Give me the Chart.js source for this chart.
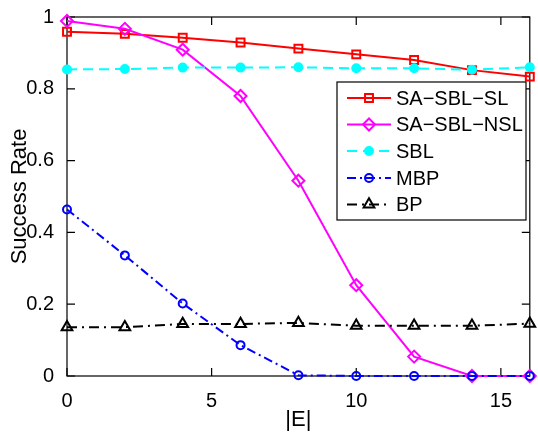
<!DOCTYPE html>
<html>
<head>
<meta charset="utf-8">
<script src="https://cdn.jsdelivr.net/npm/chart.js@4.4.0/dist/chart.umd.min.js"></script>
<style>
  html, body { margin: 0; padding: 0; background: #fff; }
  #wrap { width: 538px; height: 436px; }
</style>
</head>
<body>
<div id="wrap"><canvas id="chart" width="538" height="436"></canvas></div>
<script>
const xValues = [0, 2, 4, 6, 8, 10, 12, 14, 16];
const saSblSl  = [0.959, 0.953, 0.942, 0.929, 0.912, 0.896, 0.880, 0.852, 0.834];
const saSblNsl = [0.989, 0.967, 0.909, 0.780, 0.544, 0.253, 0.054, 0.0, 0.0];
const sbl      = [0.854, 0.855, 0.859, 0.859, 0.860, 0.857, 0.857, 0.853, 0.860];
const mbp      = [0.464, 0.336, 0.202, 0.086, 0.002, 0.0, 0.0, 0.0, 0.0];
const bp       = [0.136, 0.136, 0.145, 0.145, 0.148, 0.140, 0.140, 0.140, 0.146];
const seriesNames = ['SA\u2212SBL\u2212SL', 'SA\u2212SBL\u2212NSL', 'SBL', 'MBP', 'BP'];
const xTicks = [0, 5, 10, 15];
const yTicks = [0, 0.2, 0.4, 0.6, 0.8, 1];

const FONT = '"Liberation Sans", Arial, Helvetica, sans-serif';

function pts(ys) {
  return xValues.map((x, i) => ({ x: x, y: ys[i] }));
}

function series(i, ys, color, style, radius, dash, fill) {
  return {
    label: seriesNames[i],
    data: pts(ys),
    borderColor: color,
    borderWidth: 2,
    borderDash: dash,
    pointStyle: style,
    pointRadius: radius,
    pointBorderWidth: 2,
    pointBorderColor: color,
    pointBackgroundColor: fill ? color : 'rgba(0,0,0,0)',
    tension: 0,
    clip: false,
    order: 5 - i
  };
}

const datasets = [
  series(0, saSblSl, '#ff0000', 'rect', 5.6, [], false),
  series(1, saSblNsl, '#ff00ff', 'rectRot', 6, [], false),
  series(2, sbl, '#00ffff', 'circle', 4, [10, 6], true),
  series(3, mbp, '#0000ff', 'circle', 4, [9, 4, 2, 4], false),
  series(4, bp, '#000000', 'triangle', 6.2, [10, 5, 2, 5], false)
];

// MATLAB style box with inward ticks on all four sides
const boxTicks = {
  id: 'boxTicks',
  beforeDatasetsDraw(chart) {
    const { ctx, chartArea: a, scales } = chart;
    const len = 8;
    ctx.save();
    ctx.strokeStyle = '#000';
    ctx.lineWidth = 1.2;
    ctx.strokeRect(a.left, a.top, a.right - a.left, a.bottom - a.top);
    ctx.beginPath();
    xTicks.forEach(v => {
      const px = scales.x.getPixelForValue(v);
      ctx.moveTo(px, a.bottom); ctx.lineTo(px, a.bottom - len);
      ctx.moveTo(px, a.top); ctx.lineTo(px, a.top + len);
    });
    yTicks.forEach(v => {
      const py = scales.y.getPixelForValue(v);
      ctx.moveTo(a.left, py); ctx.lineTo(a.left + len, py);
      ctx.moveTo(a.right, py); ctx.lineTo(a.right - len, py);
    });
    ctx.stroke();
    ctx.restore();
  }
};

// legend box inside the plot, top right
const boxLegend = {
  id: 'boxLegend',
  afterDraw(chart) {
    const ctx = chart.ctx;
    const left = 337, top = 82, w = 189, h = 138;
    const rows = [98, 124.5, 151, 178, 204.5];
    ctx.save();
    ctx.fillStyle = '#fff';
    ctx.fillRect(left, top, w, h);
    ctx.strokeStyle = '#000';
    ctx.lineWidth = 1.2;
    ctx.strokeRect(left, top, w, h);
    chart.data.datasets.forEach((ds, i) => {
      const y = rows[i];
      ctx.save();
      ctx.strokeStyle = ds.borderColor;
      ctx.lineWidth = ds.borderWidth;
      ctx.setLineDash(ds.borderDash);
      ctx.beginPath();
      ctx.moveTo(347, y);
      ctx.lineTo(391, y);
      ctx.stroke();
      ctx.setLineDash([]);
      ctx.fillStyle = ds.pointBackgroundColor;
      ctx.strokeStyle = ds.pointBorderColor;
      ctx.lineWidth = ds.pointBorderWidth;
      Chart.helpers.drawPoint(ctx, {
        pointStyle: ds.pointStyle,
        radius: ds.pointRadius,
        rotation: 0,
        borderWidth: ds.pointBorderWidth
      }, 369, y);
      ctx.restore();
      ctx.fillStyle = '#000';
      ctx.font = '20px ' + FONT;
      ctx.textBaseline = 'middle';
      ctx.textAlign = 'left';
      ctx.fillText(ds.label, 396, y + 1);
    });
    ctx.restore();
  }
};

new Chart(document.getElementById('chart'), {
  type: 'line',
  data: { datasets: datasets },
  options: {
    responsive: false,
    animation: false,
    devicePixelRatio: 1,
    layout: { padding: { top: 12, right: 1, left: 0, bottom: 0 } },
    plugins: {
      legend: { display: false },
      tooltip: { enabled: false }
    },
    scales: {
      x: {
        type: 'linear',
        min: 0,
        max: 16,
        afterBuildTicks: s => { s.ticks = xTicks.map(v => ({ value: v })); },
        afterFit: s => { s.height = 60; },
        grid: { display: false },
        border: { display: false },
        ticks: {
          color: '#000',
          padding: 5,
          maxRotation: 0,
          font: { family: FONT, size: 20 }
        },
        title: {
          display: true,
          text: '|E|',
          color: '#000',
          padding: { top: 3, bottom: 3 },
          font: { family: FONT, size: 22 }
        }
      },
      y: {
        min: 0,
        max: 1,
        afterBuildTicks: s => { s.ticks = yTicks.map(v => ({ value: v })); },
        afterFit: s => { s.width = 67; },
        grid: { display: false },
        border: { display: false },
        ticks: {
          color: '#000',
          padding: 5,
          font: { family: FONT, size: 20 },
          callback: v => String(Math.round(v * 10) / 10)
        },
        title: {
          display: true,
          text: 'Success Rate',
          color: '#000',
          padding: { top: 7, bottom: 0 },
          font: { family: FONT, size: 22 }
        }
      }
    }
  },
  plugins: [boxTicks, boxLegend]
});
</script>
</body>
</html>
